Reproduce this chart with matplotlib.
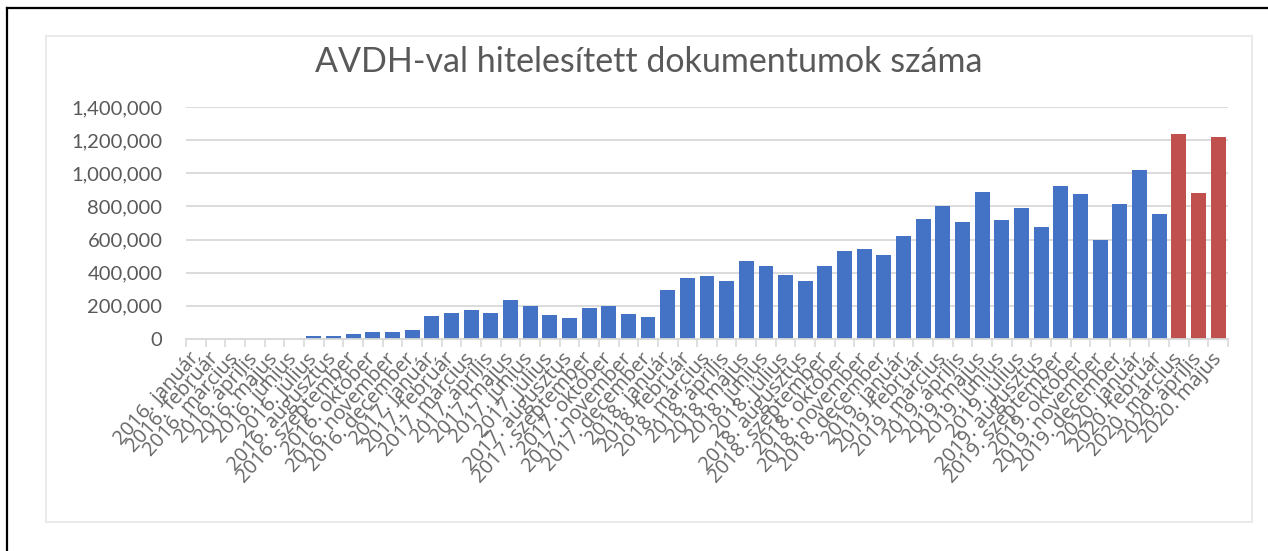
import matplotlib
matplotlib.use("Agg")
import matplotlib.pyplot as plt
from matplotlib.lines import Line2D
from matplotlib.patches import Rectangle
from matplotlib.ticker import FuncFormatter, FixedLocator

title = "AVDH-val hitelesített dokumentumok száma"
months = ["január", "február", "március", "április", "május", "június",
          "július", "augusztus", "szeptember", "október", "november", "december"]
years = [2016, 2017, 2018, 2019, 2020]
month_counts = [12, 12, 12, 12, 5]

values_2016 = [0, 0, 0, 0, 0, 3000, 20000, 20000, 32000, 42000, 44000, 52000]
values_2017 = [140000, 154000, 178000, 154000, 238000, 198000,
               146000, 128000, 190000, 202000, 148000, 130000]
values_2018 = [296000, 366000, 382000, 350000, 472000, 442000,
               384000, 352000, 438000, 534000, 546000, 505000]
values_2019 = [622000, 723000, 803000, 707000, 890000, 717000,
               793000, 673000, 926000, 873000, 596000, 815000]
values_2020 = [1020000, 753000, 1235000, 882000, 1221000]
highlight_from = "2020. március"

yticks = [0, 200000, 400000, 600000, 800000, 1000000, 1200000, 1400000]

categories = [f"{y}. {m}" for y, n in zip(years, month_counts) for m in months[:n]]
values = values_2016 + values_2017 + values_2018 + values_2019 + values_2020

BLUE = "#4472C4"
RED = "#C0504D"
GRID = "#D9D9D9"
TEXT = "#595959"
LABEL = "#666666"

plt.rcParams["font.family"] = ["Lato", "DejaVu Sans"]

W, H = 1268, 551
fig = plt.figure(figsize=(W / 100, H / 100), dpi=100)

# plot area in pixels
left_px, right_px, top_px, bottom_px = 186, 1228, 107, 339
ax = fig.add_axes([left_px / W, 1 - bottom_px / H,
                   (right_px - left_px) / W, (bottom_px - top_px) / H])

hi = categories.index(highlight_from)
colors = [BLUE if i < hi else RED for i in range(len(categories))]
x = list(range(len(categories)))
ax.bar(x, values, width=0.76, color=colors, zorder=3)

ax.set_xlim(-0.5, len(categories) - 0.5)
ax.set_ylim(0, 1400000)
ax.set_yticks(yticks)
ax.yaxis.set_major_formatter(FuncFormatter(lambda v, p: f"{int(v):,}"))
ax.grid(axis="y", color=GRID, linewidth=1.3, zorder=0)
ax.set_axisbelow(True)

for s in ["top", "right", "left"]:
    ax.spines[s].set_visible(False)
ax.spines["bottom"].set_color(GRID)
ax.spines["bottom"].set_linewidth(1.3)
ax.spines["bottom"].set_zorder(4)

ax.tick_params(axis="y", length=0, pad=17, labelsize=14.5, labelcolor=TEXT)
ax.set_xticks(x)
ax.set_xticklabels(categories, rotation=48, ha="right", rotation_mode="anchor",
                   va="center", fontsize=14.5, color=LABEL,
                   family=["Open Sans", "DejaVu Sans"])
ax.tick_params(axis="x", which="major", length=0, pad=12)
ax.xaxis.set_minor_locator(FixedLocator([i - 0.5 for i in range(len(categories) + 1)]))
ax.tick_params(axis="x", which="minor", length=6, color=GRID, width=1.2)

fig.text(649 / W, 1 - 62 / H, title, ha="center", va="center",
         fontsize=24.5, color=TEXT)

# chart area frame
fig.add_artist(Rectangle((46 / W, 1 - 522 / H), (1252 - 46) / W, (522 - 36) / H,
                         transform=fig.transFigure, fill=False,
                         edgecolor="#E6E6E6", linewidth=1.2))
# outer black border (left and top visible)
fig.add_artist(Line2D([7 / W, 7 / W], [0, 1 - 8 / H], transform=fig.transFigure,
                      color="black", linewidth=1.6))
fig.add_artist(Line2D([7 / W, 1], [1 - 8 / H, 1 - 8 / H], transform=fig.transFigure,
                      color="black", linewidth=1.6))

fig.savefig("out.png", dpi=100, facecolor="white")
